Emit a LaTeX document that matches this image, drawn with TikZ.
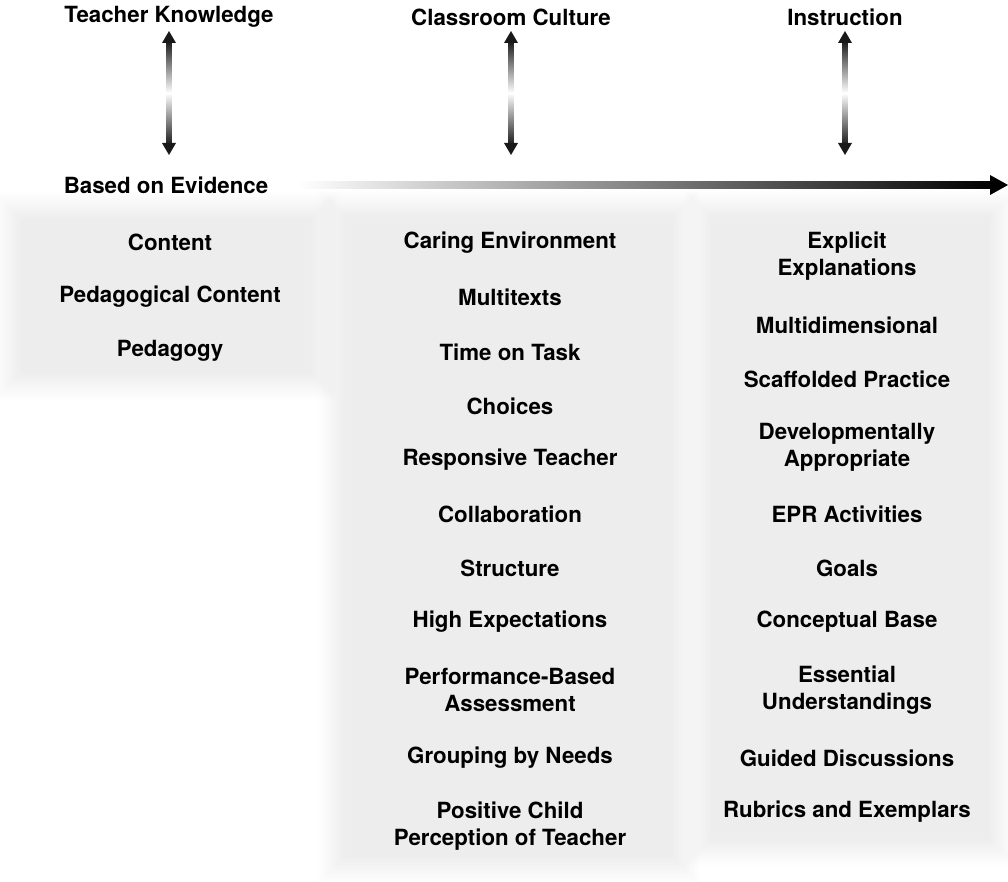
\documentclass[tikz,border=0pt]{standalone}
\usepackage{fontspec}
\setmainfont{TeX Gyre Heros}
\usetikzlibrary{calc}

% soft grey panel: stacked translucent rectangles give a blurred edge
\newcommand\softpanel[4]{%
  \foreach \i in {0,...,17}{%
    \fill[black,opacity=0.0058] ($(#1,#2)+(\i*1.6,\i*1.6)$) rectangle ($(#3,#4)-(\i*1.6,\i*1.6)$);
  }%
}

\begin{document}
\begin{tikzpicture}[x=1pt,y=-1pt,
  label/.style={font=\fontsize{22.3}{27}\selectfont\bfseries, align=center, text=black, inner sep=0pt},
  item/.style={label}]
\useasboundingbox[fill=white] (0,0) rectangle (1008,882);

% background panels
\softpanel{-6}{192}{338}{400}
\softpanel{318}{190}{700}{884}
\softpanel{684}{190}{1016}{866}

% column headings
\node[label] (tk)  at (169,17) {Teacher Knowledge};
\node[label] (cc)  at (511,17) {Classroom Culture};
\node[label] (ins) at (845,17) {Instruction};
\node[label] (evi) at (166,185) {Based on Evidence};

% two-headed vertical arrows, dark at the tips and pale in the middle
\foreach \n/\x in {tk/169, cc/511, ins/845}{
  \coordinate (\n-top) at (\x,31);
  \coordinate (\n-bot) at (\x,155);
  \shade[top color=black!90, bottom color=black!90, middle color=white]
    ($(\n-top)+(-2.6,10)$) rectangle ($(\n-bot)+(2.6,-10)$);
  \fill[black!90] (\n-top) -- ++(7,12) -- ++(-14,0) -- cycle;
  \fill[black!90] (\n-bot) -- ++(7,-12) -- ++(-14,0) -- cycle;
}

% horizontal arrow fading in from the left
\coordinate (h-start) at (298,185);
\coordinate (h-end) at (1008,185);
\shade[left color=white, right color=black]
  ($(h-start)+(0,-3.2)$) rectangle ($(h-end)+(-16,3.2)$);
\fill[black] (h-end) -- ++(-18,-10) -- ++(0,20) -- cycle;

% Teacher Knowledge column
\node[item] (tk1) at (170,242) {Content};
\node[item] (tk2) at (170,297) {Pedagogical Content};
\node[item] (tk3) at (170,351) {Pedagogy};

% Classroom Culture column
\node[item] (cc1)  at (510,243) {Caring Environment};
\node[item] (cc2)  at (510,297) {Multitexts};
\node[item] (cc3)  at (510,352) {Time on Task};
\node[item] (cc4)  at (510,406) {Choices};
\node[item] (cc5)  at (510,460) {Responsive Teacher};
\node[item] (cc6)  at (510,514) {Collaboration};
\node[item] (cc7)  at (510,568) {Structure};
\node[item] (cc8)  at (510,622) {High Expectations};
\node[item] (cc9)  at (510,690) {Performance-Based\\Assessment};
\node[item] (cc10) at (510,758) {Grouping by Needs};
\node[item] (cc11) at (510,826) {Positive Child\\Perception of Teacher};

% Instruction column
\node[item] (in1)  at (847,256) {Explicit\\Explanations};
\node[item] (in2)  at (847,325) {Multidimensional};
\node[item] (in3)  at (847,379) {Scaffolded Practice};
\node[item] (in4)  at (847,447) {Developmentally\\Appropriate};
\node[item] (in5)  at (847,514) {EPR Activities};
\node[item] (in6)  at (847,568) {Goals};
\node[item] (in7)  at (847,622) {Conceptual Base};
\node[item] (in8)  at (847,690) {Essential\\Understandings};
\node[item] (in9)  at (847,758) {Guided Discussions};
\node[item] (in10) at (847,812) {Rubrics and Exemplars};
\end{tikzpicture}
\end{document}
